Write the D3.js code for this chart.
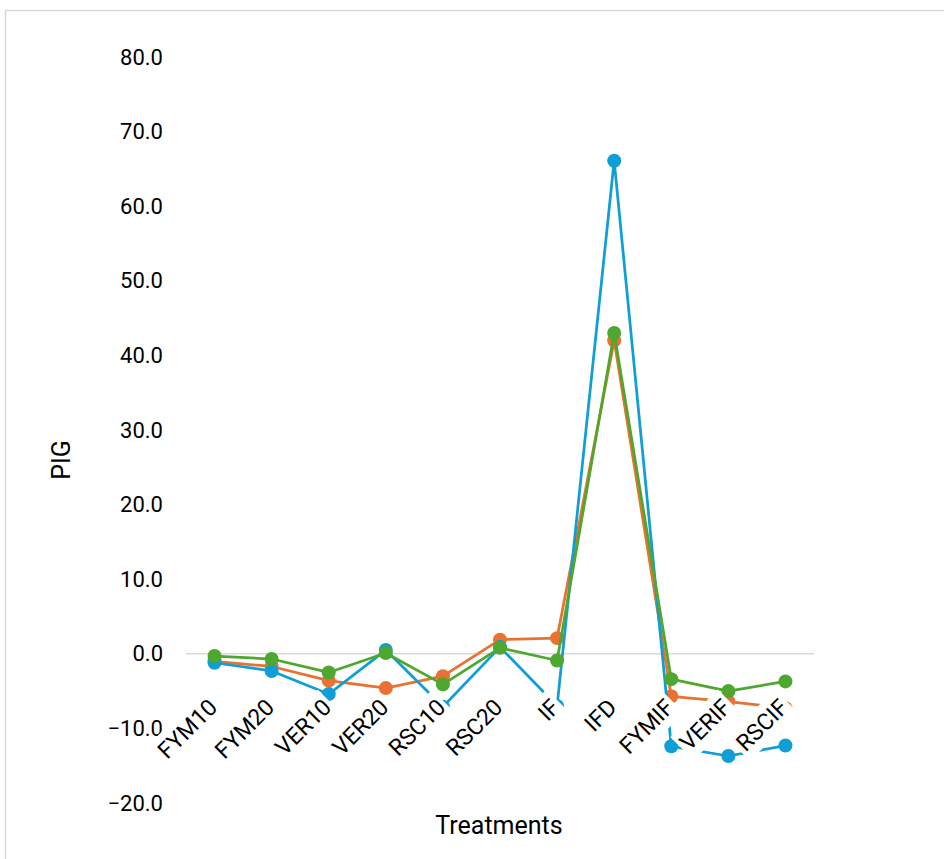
<!DOCTYPE html>
<html>
<head>
<meta charset="utf-8">
<script src="https://cdn.jsdelivr.net/npm/d3@7/dist/d3.min.js"></script>
<style>
  html, body { margin: 0; padding: 0; background: #fff; }
  svg { display: block; font-family: Roboto, "Liberation Sans", Arial, sans-serif; }
</style>
</head>
<body>
<svg id="chart" width="944" height="859"></svg>
<script>
// Treatments on the category axis
const categories = ["FYM10", "FYM20", "VER10", "VER20", "RSC10", "RSC20", "IF", "IFD", "FYMIF", "VERIF", "RSCIF"];

// PIG values per series
const seriesOrange = [-1.0, -1.7, -3.6, -4.6, -3.0, 1.9, 2.1, 42.0, -5.7, -6.4, -7.3];
const seriesBlue   = [-1.2, -2.3, -5.4, 0.5, -7.1, 0.9, -7.0, 66.1, -12.4, -13.7, -12.3];
const seriesGreen  = [-0.3, -0.7, -2.5, 0.1, -4.1, 0.8, -0.9, 43.0, -3.4, -5.0, -3.7];

const yTicks = [-20, -10, 0, 10, 20, 30, 40, 50, 60, 70, 80];

const series = [
  { name: "Orange", values: seriesOrange, color: "#E97132" },
  { name: "Blue",   values: seriesBlue,   color: "#0F9ED5" },
  { name: "Green",  values: seriesGreen,  color: "#4EA72E" }
];

const svg = d3.select("#chart");

// chart area frame
svg.append("rect")
  .attr("x", 5.5).attr("y", 10.5)
  .attr("width", 960).attr("height", 880)
  .attr("fill", "#fff")
  .attr("stroke", "#d9d9d9")
  .attr("stroke-width", 1.5);

const plot = { left: 186, right: 814, top: 57, bottom: 803 };

const x = d3.scalePoint()
  .domain(categories)
  .range([plot.left, plot.right])
  .padding(0.5);

const y = d3.scaleLinear()
  .domain([-20, 80])
  .range([plot.bottom, plot.top]);

// y axis: labels only, no line or ticks
const yAxis = d3.axisLeft(y)
  .tickValues(yTicks)
  .tickFormat(d3.format(".1f"))
  .tickSize(0)
  .tickPadding(0);

const gy = svg.append("g")
  .attr("transform", `translate(${plot.left - 23},0)`)
  .call(yAxis);
gy.select(".domain").remove();
gy.selectAll("text")
  .attr("font-size", 22)
  .attr("font-family", "Roboto, 'Liberation Sans', Arial, sans-serif")
  .attr("fill", "#000");

// horizontal axis line at zero
svg.append("line")
  .attr("x1", plot.left).attr("x2", plot.right)
  .attr("y1", y(0)).attr("y2", y(0))
  .attr("stroke", "#d9d9d9")
  .attr("stroke-width", 1.5);

const line = d3.line()
  .x((d, i) => x(categories[i]))
  .y(d => y(d));

const gSeries = svg.append("g");
series.forEach(s => {
  const g = gSeries.append("g");
  g.append("path")
    .datum(s.values)
    .attr("d", line)
    .attr("fill", "none")
    .attr("stroke", s.color)
    .attr("stroke-width", 2.75)
    .attr("stroke-linejoin", "round");
  g.selectAll("circle")
    .data(s.values)
    .join("circle")
    .attr("cx", (d, i) => x(categories[i]))
    .attr("cy", d => y(d))
    .attr("r", 7)
    .attr("fill", s.color);
});

// category labels with white backing, placed next to the zero axis
const gLabels = svg.append("g");
categories.forEach(c => {
  const g = gLabels.append("g")
    .attr("transform", `translate(${x(c) + 4},${y(0) + 55}) rotate(-45)`);
  const bg = g.append("rect").attr("fill", "#fff");
  const t = g.append("text")
    .attr("text-anchor", "end")
    .attr("font-size", 23)
    .attr("fill", "#000")
    .text(c);
  const bb = t.node().getBBox();
  const pad = 3;
  bg.attr("x", bb.x - pad).attr("y", bb.y - pad)
    .attr("width", bb.width + 2 * pad).attr("height", bb.height + 2 * pad);
});

// axis titles
svg.append("text")
  .attr("x", 499).attr("y", 834)
  .attr("text-anchor", "middle")
  .attr("font-size", 25)
  .attr("fill", "#000")
  .text("Treatments");

svg.append("text")
  .attr("transform", `translate(70,460) rotate(-90)`)
  .attr("text-anchor", "middle")
  .attr("font-size", 25)
  .attr("fill", "#000")
  .text("PIG");
</script>
</body>
</html>
